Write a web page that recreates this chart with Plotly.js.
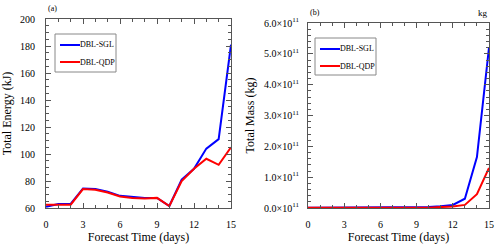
<!DOCTYPE html>
<html>
<head>
<meta charset="utf-8">
<script src="https://cdn.plot.ly/plotly-3.0.1.min.js"></script>
<style>html,body{margin:0;padding:0;background:#fff;}#chart{width:500px;height:248px;}</style>
</head>
<body>
<div id="chart"></div>
<script>
// ---- data ----
const days = [0,1,2,3,4,5,6,7,8,9,10,11,12,13,14,15];
const seriesNames = ["DBL-SGL","DBL-QDP"];
// Total energy (kJ)
const energySGL = [61,63,63,74.5,74,72,69,68,67.5,67.5,61.5,81,89,104,111,181];
const energyQDP = [62.5,62.5,62.5,74,73.5,71.5,68.5,67.5,67,67.5,61.5,80,89,96.5,92,105];
// Total mass (kg)
const massSGL = [0.01e11,0.01e11,0.01e11,0.01e11,0.01e11,0.01e11,0.01e11,0.01e11,0.01e11,0.015e11,0.03e11,0.06e11,0.1e11,0.3e11,1.65e11,5.2e11];
const massQDP = [0.005e11,0.005e11,0.005e11,0.005e11,0.005e11,0.005e11,0.005e11,0.005e11,0.005e11,0.005e11,0.01e11,0.03e11,0.05e11,0.1e11,0.45e11,1.3e11];
const xTicks = [0,3,6,9,12,15];
const energyTicks = [60,80,100,120,140,160,180,200];
const massTicks = [0,1e11,2e11,3e11,4e11,5e11,6e11];
const massTickText = ["0.0×10<sup>11</sup>","1.0×10<sup>11</sup>","2.0×10<sup>11</sup>","3.0×10<sup>11</sup>","4.0×10<sup>11</sup>","5.0×10<sup>11</sup>","6.0×10<sup>11</sup>"];
const colors = ["#0000ff","#ff0000"];

const FONT = "Liberation Serif";
const W = 500, H = 248;
const px = v => v / W;
const py = v => 1 - v / H;

const traces = [
  {x: days, y: energySGL, name: seriesNames[0], xaxis:'x', yaxis:'y', mode:'lines', line:{color:colors[0], width:2}},
  {x: days, y: energyQDP, name: seriesNames[1], xaxis:'x', yaxis:'y', mode:'lines', line:{color:colors[1], width:2}},
  {x: days, y: massSGL, name: seriesNames[0], xaxis:'x2', yaxis:'y2', mode:'lines', line:{color:colors[0], width:2}},
  {x: days, y: massQDP, name: seriesNames[1], xaxis:'x2', yaxis:'y2', mode:'lines', line:{color:colors[1], width:2}}
];

const axisCommon = {
  showline:true, mirror:'allticks', linecolor:'#555', linewidth:1,
  ticks:'inside', ticklen:5, tickcolor:'#555', tickwidth:1,
  showgrid:false, zeroline:false,
  tickfont:{family:FONT, size:10, color:'#000', weight:'normal'}
};
const xCommon = Object.assign({}, axisCommon, {
  range:[0,15], tickmode:'array', tickvals:xTicks,
  minor:{ticks:'inside', dtick:1, tick0:0, ticklen:3, tickcolor:'#555', showgrid:false},
  title:{text:'Forecast Time (days)', font:{family:FONT, size:12, color:'#000', weight:'normal'}, standoff:0},
  ticklabelstandoff:7
});

const layout = {
  width: W, height: H,
  margin:{l:0,r:0,t:0,b:0},
  font:{family:FONT, color:'#000', weight:'normal'},
  paper_bgcolor:'#fff', plot_bgcolor:'#fff',
  showlegend:false,
  xaxis: Object.assign({}, xCommon, {domain:[px(46), px(231)], anchor:'y'}),
  yaxis: Object.assign({}, axisCommon, {
    domain:[py(208), py(19)], anchor:'x', range:[60,200],
    tickmode:'array', tickvals:energyTicks,
    minor:{ticks:'inside', dtick:5, tick0:60, ticklen:3, tickcolor:'#555', showgrid:false},
    title:{text:'Total Energy (kJ)', font:{family:FONT, size:12, color:'#000', weight:'normal'}, standoff:8},
    ticklabelstandoff:8
  }),
  xaxis2: Object.assign({}, xCommon, {domain:[px(308), px(489)], anchor:'y2'}),
  yaxis2: Object.assign({}, axisCommon, {
    domain:[py(208), py(23)], anchor:'x2', range:[0,6e11],
    tickmode:'array', tickvals:massTicks, ticktext:massTickText,
    minor:{ticks:'inside', dtick:0.2e11, tick0:0, ticklen:3, tickcolor:'#555', showgrid:false},
    title:{text:'Total Mass (kg)', font:{family:FONT, size:12, color:'#000', weight:'normal'}, standoff:6},
    ticklabelstandoff:6
  }),
  shapes: [],
  annotations: [
    {xref:'paper', yref:'paper', x:px(46), y:py(9), text:'(a)', showarrow:false, xanchor:'left', yanchor:'middle', font:{family:FONT, size:8, color:'#000'}},
    {xref:'paper', yref:'paper', x:px(308), y:py(13), text:'(b)', showarrow:false, xanchor:'left', yanchor:'middle', font:{family:FONT, size:8, color:'#000'}},
    {xref:'paper', yref:'paper', x:px(490), y:py(13), text:'kg', showarrow:false, xanchor:'right', yanchor:'middle', font:{family:FONT, size:9, color:'#000'}}
  ]
};

// manual legends (box, line samples and labels)
function addLegend(x0, y0, x1, y1) {
  layout.shapes.push({type:'rect', xref:'paper', yref:'paper', x0:px(x0), x1:px(x1), y0:py(y0), y1:py(y1), line:{color:'#888', width:1}, fillcolor:'#fff', layer:'above'});
  const rowY = [y0 + 11, y0 + 28];
  seriesNames.forEach((nm, i) => {
    layout.shapes.push({type:'line', xref:'paper', yref:'paper', x0:px(x0+5), x1:px(x0+25), y0:py(rowY[i]), y1:py(rowY[i]), line:{color:colors[i], width:2}, layer:'above'});
    layout.annotations.push({xref:'paper', yref:'paper', x:px(x0+25), y:py(rowY[i]), text:nm, showarrow:false, xanchor:'left', yanchor:'middle', xshift:-2, font:{family:FONT, size:8, color:'#000'}});
  });
}
addLegend(55, 34, 116, 72);
addLegend(315, 38, 376, 75);

Plotly.newPlot('chart', traces, layout, {displayModeBar:false, staticPlot:true});
</script>
</body>
</html>
